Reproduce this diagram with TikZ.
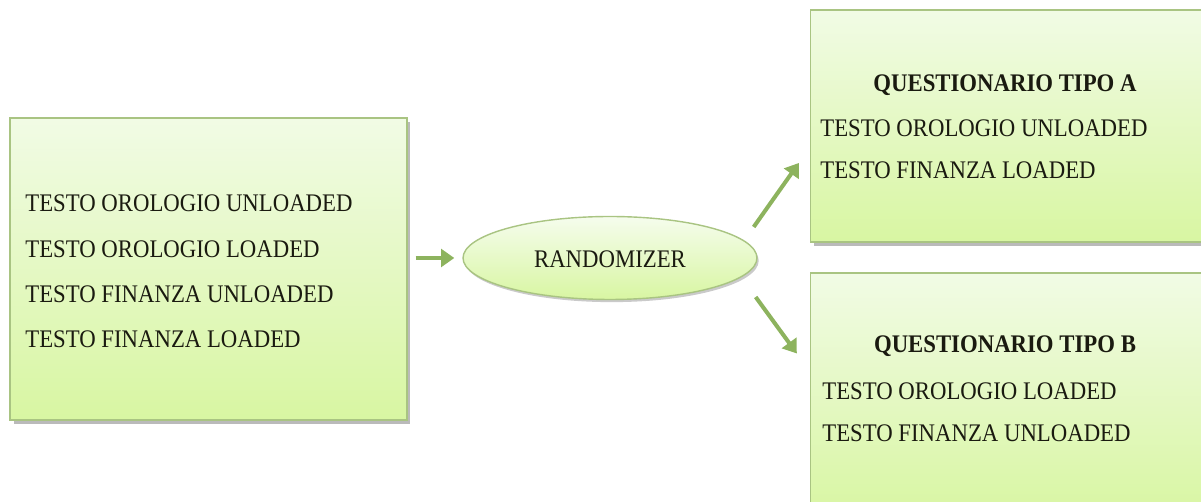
\documentclass[tikz,border=0pt]{standalone}
\usepackage{fontspec}
\setmainfont{Liberation Serif}[FakeStretch=0.9]
\usetikzlibrary{shadows,arrows.meta,calc,shapes.geometric}

\definecolor{boxtop}{HTML}{F1FBE5}
\definecolor{boxbot}{HTML}{D8F6A2}
\definecolor{boxline}{HTML}{A9C482}
\definecolor{arrowgreen}{HTML}{8DB35E}
\definecolor{inktext}{HTML}{1A1A10}

\tikzset{
  panel/.style={rectangle, draw=boxline, line width=0.8pt,
    top color=boxtop, bottom color=boxbot,
    drop shadow={shadow xshift=2pt, shadow yshift=-2.5pt, opacity=0.45, fill=black!60}},
  oval/.style={ellipse, draw=boxline, line width=0.8pt,
    top color=boxtop!70!white, bottom color=boxbot,
    drop shadow={shadow xshift=1pt, shadow yshift=-1.5pt, opacity=0.35, fill=black!60},
    minimum width=5.88cm, minimum height=1.66cm, inner sep=0pt},
  flow/.style={draw=arrowgreen, line width=2.3pt,
    -{Triangle[length=7.5pt,width=10pt]}},
  line/.style={anchor=base west, inner sep=0pt, text=inktext,
    font=\fontsize{14.4}{17}\selectfont},
  heading/.style={anchor=base, inner sep=0pt, text=inktext,
    font=\fontsize{14.4}{17}\selectfont\bfseries},
}

\begin{document}
\begin{tikzpicture}[x=0.02cm, y=-0.02cm]
  \useasboundingbox (0,0) rectangle (1201,502);
  \clip (0,0) rectangle (1201,502);

  % source list
  \node[panel, minimum width=7.94cm, minimum height=6.04cm] (src) at (208.5,269) {};
  \node[line] (s1) at (25,212) {TESTO OROLOGIO UNLOADED};
  \node[line] (s2) at (25,258) {TESTO OROLOGIO LOADED};
  \node[line] (s3) at (25,303) {TESTO FINANZA UNLOADED};
  \node[line] (s4) at (25,348) {TESTO FINANZA LOADED};

  % randomizer
  \node[oval] (rnd) at (610,258) {};
  \node[line, anchor=base] (rl) at (610,268) {RANDOMIZER};

  % questionnaire A
  \node[panel, minimum width=8.1cm, minimum height=4.64cm] (qa) at (1013,126) {};
  \node[heading] (qat) at (1005,92) {QUESTIONARIO TIPO A};
  \node[line] (qa1) at (820,137) {TESTO OROLOGIO UNLOADED};
  \node[line] (qa2) at (820,179) {TESTO FINANZA LOADED};

  % questionnaire B
  \node[panel, minimum width=8.1cm, minimum height=4.9cm] (qb) at (1013,395.5) {};
  \node[heading] (qbt) at (1005,353) {QUESTIONARIO TIPO B};
  \node[line] (qb1) at (822,400) {TESTO OROLOGIO LOADED};
  \node[line] (qb2) at (822,442) {TESTO FINANZA UNLOADED};

  % connectors
  \draw[flow] ([xshift=8*0.02cm]src.east |- rnd.west) -- ([xshift=-8*0.02cm]rnd.west);
  \draw[flow] ([shift={(-4,-31)}]rnd.east) -- ([shift={(-11,37)}]qa.west);
  \draw[flow] ([shift={(-2,39)}]rnd.east) -- ([shift={(-13,-42)}]qb.west);
\end{tikzpicture}
\end{document}
